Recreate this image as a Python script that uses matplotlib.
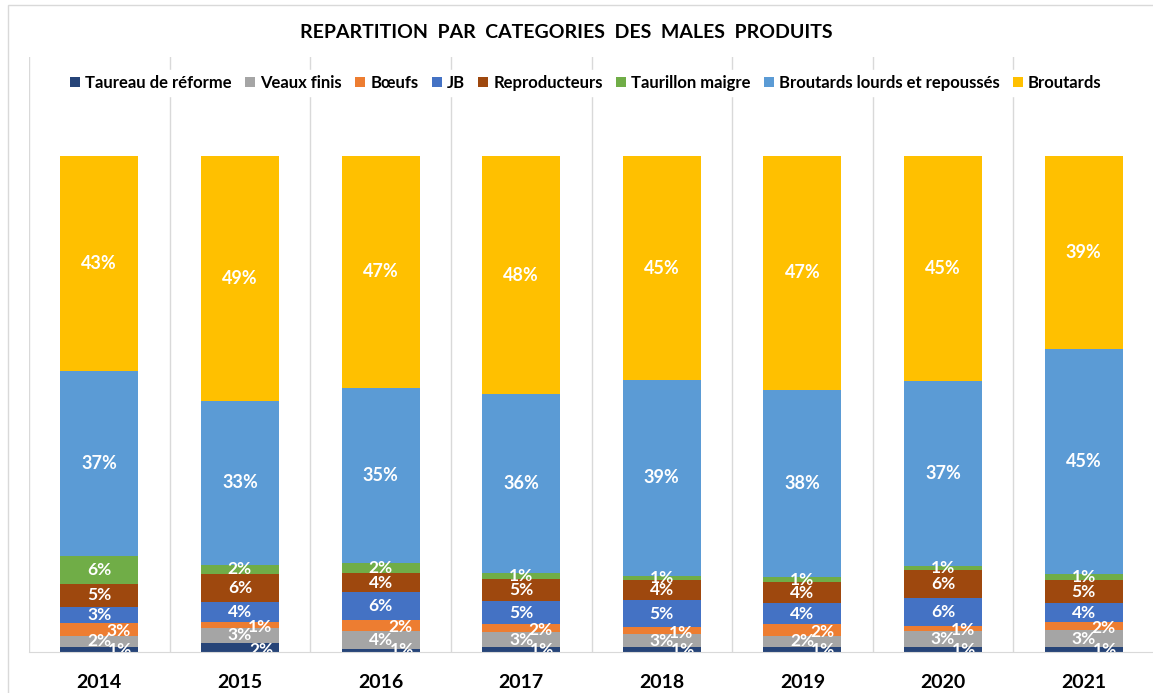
import matplotlib.pyplot as plt
import numpy as np
from matplotlib.patches import Rectangle

years = ['2014', '2015', '2016', '2017', '2018', '2019', '2020', '2021']

# parts in % of males produced, bottom to top
taureau = [1.0, 1.9, 0.6, 1.0, 1.0, 1.0, 1.0, 1.0]
veaux = [2.3, 2.9, 3.7, 3.0, 2.6, 2.3, 3.3, 3.4]
boeufs = [2.6, 1.3, 2.1, 1.6, 1.4, 2.3, 0.9, 1.7]
jb = [3.2, 3.9, 5.7, 4.6, 5.4, 4.2, 5.7, 3.7]
repro = [4.6, 5.8, 3.8, 4.6, 4.1, 4.3, 5.6, 4.8]
taurillon = [5.6, 1.8, 2.0, 1.2, 0.9, 1.0, 0.9, 1.1]
lourds = [37.3, 33.1, 35.4, 36.0, 39.4, 37.8, 37.2, 45.4]
broutards = [43.4, 49.3, 46.7, 48.0, 45.2, 47.1, 45.4, 38.9]

series = [
    ('Taureau de réforme', taureau, '#264478'),
    ('Veaux finis', veaux, '#A5A5A5'),
    ('Bœufs', boeufs, '#ED7D31'),
    ('JB', jb, '#4472C4'),
    ('Reproducteurs', repro, '#9E480E'),
    ('Taurillon maigre', taurillon, '#70AD47'),
    ('Broutards lourds et repoussés', lourds, '#5B9BD5'),
    ('Broutards', broutards, '#FFC000'),
]

plt.rcParams['font.family'] = ['Lato', 'DejaVu Sans']

W, H = 1153, 693
fig = plt.figure(figsize=(W / 100, H / 100), dpi=100)
ax = fig.add_axes([29 / W, 1 - 652 / H, 1125 / W, (652 - 57) / H])

# chart frame
fig.patches.append(Rectangle((8 / W, -0.1), 2, 1.1 - 5 / H, transform=fig.transFigure,
                             fill=False, edgecolor='#d9d9d9', linewidth=1))

x = np.arange(len(years))
bottom = np.zeros(len(years))
for name, vals, col in series:
    v = np.array(vals) / 100
    ax.bar(x, v, 0.555, bottom=bottom, color=col, label=name, zorder=2)
    for i in range(len(years)):
        txt = f'{vals[i]:.0f}%'
        xi, yi = x[i], bottom[i] + v[i] / 2
        if name == 'Taureau de réforme':
            xi, yi = x[i] + 0.15, 0.004
        elif name == 'Bœufs':
            xi, yi = x[i] + 0.14, yi - 0.004
        fs = 13 if vals[i] > 20 else 12.5
        ax.text(xi, yi, txt, ha='center', va='center', color='white',
                fontsize=fs, fontweight='bold', zorder=3, clip_on=True)
    bottom += v

ax.set_xlim(-0.5, len(years) - 0.5)
ax.set_ylim(0, 1.2)
ax.set_yticks([])
ax.set_xticks(x)
ax.set_xticklabels(years, fontsize=14, fontweight='bold')
ax.tick_params(axis='x', length=0, pad=16)
for b in np.arange(-0.5, len(years), 1):
    ax.axvline(b, color='#d9d9d9', linewidth=1, zorder=0)
for s in ['top', 'right', 'left']:
    ax.spines[s].set_visible(False)
ax.spines['bottom'].set_color('#d9d9d9')

leg = ax.legend(loc='center', bbox_to_anchor=(557 / 1125, 1 - (83 - 57) / 595), ncol=8,
                frameon=True, fancybox=False, edgecolor='white', framealpha=1,
                prop={'size': 12, 'weight': 'bold'}, handlelength=0.6,
                handleheight=0.6, handletextpad=0.3, columnspacing=0.8, borderpad=0.3)

fig.text(566 / W, 1 - 33 / H, 'REPARTITION  PAR  CATEGORIES  DES  MALES  PRODUITS',
         ha='center', va='center', fontsize=14, fontweight='bold')

fig.savefig('out.png', dpi=100)
